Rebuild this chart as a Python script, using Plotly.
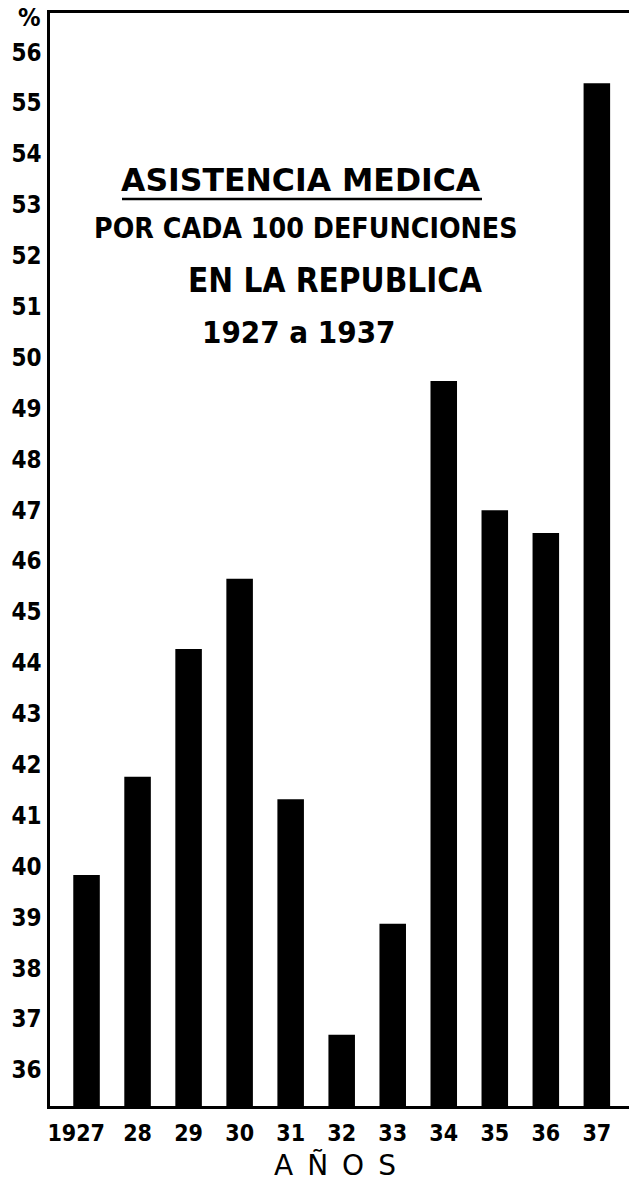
import plotly.graph_objects as go

# ---- data ----
years = ["1927", "28", "29", "30", "31", "32", "33", "34", "35", "36", "37"]
values = [39.83, 41.76, 44.27, 45.65, 41.32, 36.69, 38.87, 49.54, 47.00, 46.55, 55.39]
y_ticks = list(range(36, 57))
y_ticktext = [str(v) for v in y_ticks]

title_lines = ["ASISTENCIA MEDICA", "POR CADA 100 DEFUNCIONES", "EN LA REPUBLICA", "1927 a 1937"]
x_title = "A\u2002Ñ\u2002O\u2002S"

FONT = "DejaVu Sans Condensed"
W, H = 629, 1181
ML, MR, MT, MB = 50, 0, 13, 75
PW, PH = W - ML - MR, H - MT - MB


def px(x):
    return (x - ML) / PW


def py(y):
    return (H - MB - y) / PH


fig = go.Figure()
fig.add_trace(go.Bar(
    x=years, y=values,
    marker=dict(color="black", line=dict(width=0)),
    width=0.52,
))


def ann(text, x, y, family, size):
    return dict(text=text, x=px(x), y=py(y), xref="paper", yref="paper",
                showarrow=False, font=dict(family=family, size=size, color="black"),
                xanchor="center", yanchor="middle")


annotations = [
    ann("<b>%</b>", 29, 18, FONT, 25),
    ann(f"<b>{title_lines[0]}</b>", 301, 180, "DejaVu Sans", 31.5),
    ann(f"<b>{title_lines[1]}</b>", 306, 228, FONT, 28.3),
    ann(f"<b>{title_lines[2]}</b>", 335, 281, FONT, 33),
    ann(f"<b>{title_lines[3]}</b>", 298.5, 332, FONT, 31),
    ann(x_title, 334.5, 1166, "DejaVu Sans", 28),
]

shapes = [
    dict(type="line", xref="paper", yref="paper", x0=px(122), x1=px(482), y0=py(199), y1=py(199),
         line=dict(color="black", width=2.5)),
]

fig.update_layout(
    width=W, height=H, autosize=False,
    margin=dict(l=ML, r=MR, t=MT, b=MB, pad=0),
    plot_bgcolor="white", paper_bgcolor="white",
    showlegend=False,
    annotations=annotations,
    shapes=shapes,
)

# the first (4-digit) year label sits a little left of its bar in the reference
x_ticktext = [f"<b>{t}</b>" + ("\u2002\u2002" if len(t) == 4 else "") for t in years]

fig.update_xaxes(
    type="category", range=[-0.716, 10.63],
    tickvals=years, ticktext=x_ticktext, tickangle=0,
    showline=True, linecolor="black", linewidth=2.5, mirror=True,
    showgrid=False, zeroline=False, ticks="", ticklabelstandoff=5,
    tickfont=dict(family=FONT, size=23, color="black"),
)
fig.update_yaxes(
    range=[35.29, 56.77],
    tickvals=y_ticks, ticktext=[f"<b>{t}</b>" for t in y_ticktext],
    showline=True, linecolor="black", linewidth=2.5, mirror=False,
    showgrid=False, zeroline=False, ticks="", ticklabelstandoff=1,
    tickfont=dict(family=FONT, size=24, color="black"),
)

fig.write_html("out.html", config={"displayModeBar": False},
               post_script="document.body.style.margin='0px';")
